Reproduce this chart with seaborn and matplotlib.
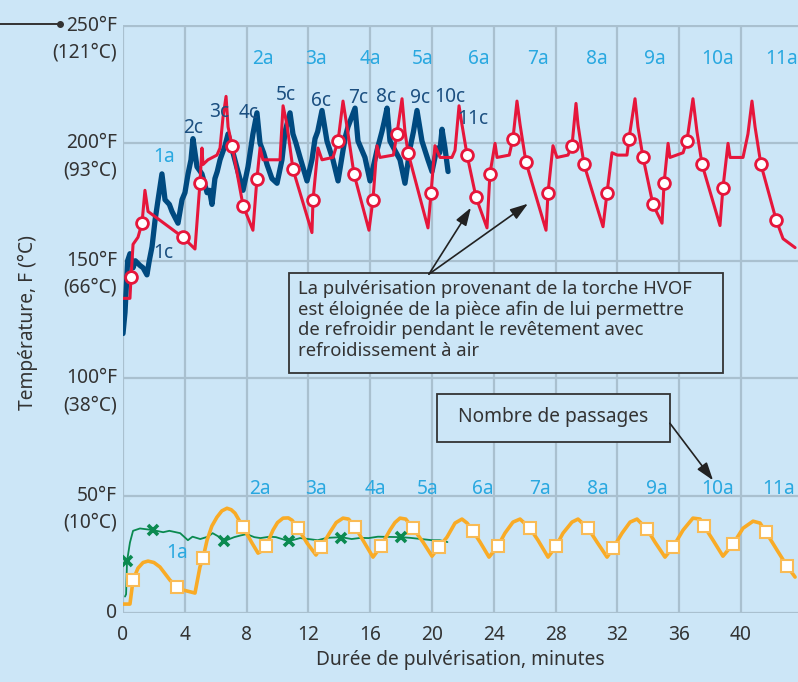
import numpy as np
import pandas as pd
import matplotlib
matplotlib.use("Agg")
import matplotlib.pyplot as plt
from matplotlib.lines import Line2D
from matplotlib.patches import Rectangle
import seaborn as sns

# ---- data (minutes, deg F) ----
blue_min = [0.0, 0.13, 0.3, 0.45, 0.65, 0.8, 1.1, 1.3, 1.55, 1.7,
            1.88, 2.07, 2.27, 2.52, 2.72, 3.0, 3.17, 3.4, 3.56, 3.82,
            4.01, 4.21, 4.4, 4.53, 4.79, 5.11, 5.44, 5.6, 5.76, 5.95,
            6.1, 6.28, 6.6, 6.8, 7.12, 7.44, 7.77, 8.09, 8.25, 8.41,
            8.67, 8.87, 9.1, 9.32, 9.64, 9.97, 10.29, 10.49, 10.81, 11.0,
            11.2, 11.46, 11.91, 12.23, 12.43, 12.6, 12.88, 13.2, 13.59, 13.92,
            14.24, 14.4, 14.56, 15.02, 15.21, 15.66, 15.99, 16.44, 16.76, 16.9,
            17.09, 17.28, 17.6, 17.93, 18.25, 18.58, 18.8, 19.03, 19.35, 19.74,
            20.0, 20.32, 20.5, 20.65, 20.84, 21.04]
blue_f = [119, 128, 150, 153, 147, 150, 148, 147, 144, 150,
          156, 167, 176, 187, 176, 174, 171, 168, 166, 176,
          179, 187, 193, 202, 190, 187, 179, 180, 174, 185,
          188, 193, 199, 204, 196, 188, 180, 190, 197, 204,
          213, 200, 196, 191, 185, 183, 193, 205, 213, 204,
          200, 194, 184, 193, 202, 205, 214, 201, 193, 184,
          197, 203, 207, 215, 201, 194, 184, 197, 205, 209,
          215, 201, 197, 193, 183, 198, 205, 214, 201, 193,
          188, 198, 196, 206, 198, 188]

red_min = [0, 0.45, 0.52, 0.65, 0.97, 1.23, 1.42, 1.62, 3.88, 4.66,
           4.98, 5.11, 5.18, 5.5, 6.08, 6.28, 6.47, 6.67, 6.8, 7.06,
           7.77, 8.41, 8.67, 8.87, 9.06, 9.6, 10.16, 10.36, 10.61, 11.0,
           12.23, 12.3, 12.62, 12.88, 13.59, 13.92, 14.24, 14.5, 14.95, 15.92,
           16.18, 16.44, 16.63, 17.5, 17.73, 18.06, 18.25, 18.45, 19.74, 19.94,
           20.19, 20.52, 21.29, 21.49, 21.75, 21.94, 22.27, 22.85, 23.56, 23.75,
           24.08, 24.21, 25.0, 25.24, 25.5, 25.7, 26.08, 27.38, 27.51, 27.83,
           28.09, 28.8, 29.06, 29.32, 29.45, 29.84, 31.07, 31.33, 31.65, 32.0,
           32.62, 32.75, 33.14, 33.33, 33.66, 34.3, 34.89, 35.02, 35.28, 35.4,
           36.25, 36.5, 36.89, 37.15, 37.48, 38.64, 38.83, 39.16, 39.29, 40.13,
           40.45, 40.71, 40.91, 41.29, 42.27, 42.72, 43.5]
red_f = [134, 134, 143, 157, 160, 166, 180, 171, 160, 155,
         183, 198, 191, 193, 195, 198, 211, 220, 207, 199,
         173.5, 163, 185, 198, 193, 193, 193, 216, 208, 189,
         162, 176, 198, 193, 194, 201, 218, 207, 187, 163,
         176, 199, 194, 195, 204, 219, 205, 196, 164, 179,
         199, 194, 194, 197, 216, 208, 195, 177, 164, 187,
         200, 194, 195, 202, 218, 208, 192, 163, 179, 199,
         194, 195, 199, 217, 208, 191, 164.5, 179, 196, 195,
         195, 202, 219, 207, 194, 174, 166, 183, 200, 194,
         196, 201, 219, 205, 191, 165, 181, 200, 194, 194,
         204, 218, 207, 191, 167.5, 159.4, 155.6]
red_mark_min = [0.52, 1.23, 3.88, 4.98, 7.06, 7.77, 8.67, 11.0, 12.3, 13.92,
                14.95, 16.18, 17.73, 18.45, 19.94, 22.27, 22.85, 23.75, 25.24, 26.08,
                27.51, 29.06, 29.84, 31.33, 32.75, 33.66, 34.3, 35.02, 36.5, 37.48,
                38.83, 41.29, 42.27]
red_mark_f = [143, 166, 160, 183, 199, 173.5, 185, 189, 176, 201,
              187, 176, 204, 196, 179, 195, 177, 187, 202, 192,
              179, 199, 191, 179, 202, 194, 174, 183, 201, 191,
              181, 191, 167.5]

green_min = [0.13, 0.2, 0.26, 0.45, 0.65, 1.1, 1.94, 2.6, 3.0, 3.7,
             4.2, 4.5, 5.0, 5.5, 5.8, 6.2, 6.54, 7.2, 7.6, 8.0,
             8.5, 8.9, 9.5, 9.9, 10.74, 11.46, 12.0, 12.6, 13.2, 14.11,
             14.8, 15.4, 15.9, 16.5, 17.99, 18.6, 19.3, 20.0, 20.5, 21.0]
green_f = [7, 8, 22, 30, 35, 36, 35.3, 34.4, 35, 34,
           31, 32.5, 31.5, 32.5, 34, 32.5, 30.6, 32.3, 33, 33.6,
           32.3, 31.9, 32.5, 32.3, 30.6, 31.9, 31.5, 31, 32, 32.3,
           31.5, 32, 31.9, 32.5, 32.3, 32, 31.5, 31, 31, 30.2]
green_mark_min = [0.26, 1.94, 6.54, 10.74, 14.11, 17.99]
green_mark_f = [22.1, 35.3, 30.6, 30.6, 31.9, 32.3]

orange_min = [0, 0.45, 0.65, 0.97, 1.3, 1.62, 2.0, 2.39, 3.04, 3.5,
              3.88, 4.66, 4.98, 5.18, 5.44, 5.75, 6.08, 6.4, 6.73, 7.0,
              7.25, 7.77, 8.35, 8.74, 9.0, 9.26, 9.71, 10.0, 10.36, 10.7,
              10.94, 11.33, 11.91, 12.49, 12.82, 13.4, 13.8, 14.24, 14.6, 15.02,
              15.53, 16.18, 16.7, 17.28, 17.6, 17.93, 18.3, 18.77, 19.42, 20.0,
              20.45, 20.97, 21.49, 21.94, 22.27, 22.65, 23.11, 23.69, 24.27, 24.72,
              25.24, 25.7, 26.34, 26.86, 27.51, 28.03, 28.48, 29.06, 29.45, 30.1,
              30.68, 31.33, 31.72, 32.3, 32.82, 33.27, 33.92, 34.43, 35.08, 35.6,
              36.25, 36.89, 37.35, 37.61, 38.19, 38.83, 39.48, 40.13, 40.78, 41.23,
              41.62, 42.33, 42.98, 43.5]
orange_f = [3.8, 3.8, 14, 19.1, 21.5, 22.1, 21.5, 19.6, 14, 11.1,
            9.8, 8.5, 19.6, 23.4, 31, 37, 40.8, 43.5, 44.6, 44,
            42.5, 36.6, 29.8, 25.5, 26.5, 28.5, 35.3, 38.5, 40.4, 40.5,
            39.5, 36.1, 29.8, 24.7, 28.1, 34.4, 38.5, 40.4, 40, 36.6,
            31, 23.8, 28.5, 35.3, 38.5, 40.4, 40, 36.1, 30.2, 24.2,
            28.1, 32.3, 38.3, 40, 38.3, 34.9, 30.2, 23.8, 28.5, 34,
            38.7, 40, 36.1, 31, 23.8, 28.5, 34, 38.7, 40, 36.1,
            30.2, 23.8, 27.6, 34, 38.7, 40, 35.7, 30.2, 23.8, 28.1,
            35.3, 40.4, 40, 37, 31, 24.2, 29.3, 36.1, 39.1, 38.3,
            34.4, 26.8, 20, 15.3]
orange_mark_min = [0.65, 3.5, 5.18, 7.77, 9.26, 11.33, 12.82, 15.02, 16.7, 18.77,
                   20.45, 22.65, 24.27, 26.34, 28.03, 30.1, 31.72, 33.92, 35.6, 37.61,
                   39.48, 41.62, 42.98]
orange_mark_f = [14, 11.1, 23.4, 36.6, 28.5, 36.1, 28.1, 36.6, 28.5, 36.1,
                 28.1, 34.9, 28.5, 36.1, 28.5, 36.1, 27.6, 35.7, 28.1, 37,
                 29.3, 34.4, 20]

# pass labels
c_labels = ["1c", "2c", "3c", "4c", "5c", "6c", "7c", "8c", "9c", "10c", "11c"]
c_x = [2.59, 4.53, 6.2, 8.1, 10.55, 12.82, 15.21, 17.0, 19.22, 21.17, 22.65]
c_y = [153.5, 206.6, 213.5, 213.0, 220.7, 218.1, 219.4, 219.8, 219.4, 219.8, 210.5]
a_labels = ["2a", "3a", "4a", "5a", "6a", "7a", "8a", "9a", "10a", "11a"]
a_top_x = [9.05, 12.49, 15.99, 19.42, 23.04, 26.86, 30.68, 34.43, 38.51, 42.65]
a_bot_x = [8.87, 12.49, 16.31, 19.74, 23.3, 26.99, 30.74, 34.56, 38.51, 42.4]

yticks_f = [0, 50, 100, 150, 200, 250]
yticks_c = ["", "(10°C)", "(38°C)", "(66°C)", "(93°C)", "(121°C)"]
xticks = [0, 4, 8, 12, 16, 20, 24, 28, 32, 36, 40]

# ---- style ----
BG = "#cce6f7"
GRID = "#a9c0cf"
TXT = "#333333"
sns.set_theme(style="whitegrid", rc={"axes.facecolor": BG, "figure.facecolor": BG,
                                      "grid.color": GRID, "grid.linewidth": 1.6})
plt.rcParams["font.family"] = ["Noto Sans", "DejaVu Sans"]
FS = 13.8

fig = plt.figure(figsize=(7.98, 6.82), dpi=100)
ax = fig.add_axes([123 / 798, 1 - 613 / 682, 675 / 798, 588 / 682])

blue_df = pd.DataFrame({"min": blue_min, "f": blue_f})
red_df = pd.DataFrame({"min": red_min, "f": red_f})
green_df = pd.DataFrame({"min": green_min, "f": green_f})
orange_df = pd.DataFrame({"min": orange_min, "f": orange_f})

sns.lineplot(data=green_df, x="min", y="f", ax=ax, color="#0b8a50", lw=1.3, zorder=3)
sns.lineplot(data=orange_df, x="min", y="f", ax=ax, color="#f9ab26", lw=2.6, zorder=3)
sns.lineplot(data=blue_df, x="min", y="f", ax=ax, color="#004a80", lw=3.8, zorder=3)
sns.lineplot(data=red_df, x="min", y="f", ax=ax, color="#e6163b", lw=2.2, zorder=4)

ax.plot(red_mark_min, red_mark_f, "o", ms=8.5, mfc="white", mec="#e6163b", mew=2, zorder=5)
ax.plot(orange_mark_min, orange_mark_f, "s", ms=8.5, mfc="white", mec="#f9bb55", mew=1.5, zorder=5)
ax.plot(green_mark_min, green_mark_f, "x", ms=7, color="#0b8a50", mew=2.6, zorder=5)

for lab, x, y in zip(c_labels, c_x, c_y):
    ax.text(x, y, lab, color="#1b4f80", fontsize=FS, ha="center", va="center", zorder=6)
for lab, x in zip(a_labels, a_top_x):
    ax.text(x, 236, lab, color="#29a8e0", fontsize=FS, ha="center", va="center", zorder=6)
for lab, x in zip(a_labels, a_bot_x):
    ax.text(x, 52.7, lab, color="#29a8e0", fontsize=FS, ha="center", va="center", zorder=6)
ax.text(2.65, 194, "1a", color="#29a8e0", fontsize=FS, ha="center", va="center", zorder=6)
ax.text(3.5, 25.5, "1a", color="#29a8e0", fontsize=FS, ha="center", va="center", zorder=6)

# annotation boxes
ax.add_patch(Rectangle((10.74, 102.0), 28.09, 43.0, fc=BG, ec=TXT, lw=1.3, zorder=7))
ax.text(11.33, 141.8, "La pulvérisation provenant de la torche HVOF\n"
        "est éloignée de la pièce afin de lui permettre\n"
        "de refroidir pendant le revêtement avec\n"
        "refroidissement à air", fontsize=13.3, color=TXT, ha="left", va="top",
        linespacing=1.19, zorder=8)
for tip in [(22.52, 172.6), (26.21, 174.3)]:
    ax.annotate("", xy=tip, xytext=(19.8, 144.3),
                arrowprops=dict(arrowstyle="-|>,head_length=0.9,head_width=0.3",
                                color="#222222", lw=1.2, shrinkA=0, shrinkB=0), zorder=8)
ax.add_patch(Rectangle((20.32, 72.7), 15.08, 20.4, fc=BG, ec=TXT, lw=1.3, zorder=7))
ax.text(27.86, 83.3, "Nombre de passages", fontsize=FS, color=TXT, ha="center", va="center", zorder=8)
ax.annotate("", xy=(38.19, 56.5), xytext=(35.4, 80.8),
            arrowprops=dict(arrowstyle="-|>,head_length=0.9,head_width=0.3",
                            color="#222222", lw=1.2, shrinkA=0, shrinkB=0), zorder=8)

# axes
ax.set_xlim(0, 675 / 15.45)
ax.set_ylim(0, 250.4)
ax.set_xticks(xticks)
ax.set_xticklabels([str(t) for t in xticks])
ax.set_yticks(yticks_f)
ax.set_yticklabels([])
ax.grid(True, axis="both")
for s in ax.spines.values():
    s.set_visible(False)
ax.tick_params(axis="x", length=0, pad=9, labelsize=FS, labelcolor=TXT)
ax.tick_params(axis="y", length=0)
ax.set_xlabel("Durée de pulvérisation, minutes", fontsize=FS, color=TXT, labelpad=3)
ax.set_ylabel("")

ytrans = ax.get_yaxis_transform()
for v, c in zip(yticks_f, yticks_c):
    flab = "0" if v == 0 else f"{v}°F"
    ax.annotate(flab, (0, v), xycoords=ytrans, xytext=(-6, 0), textcoords="offset pixels",
                ha="right", va="center", fontsize=FS, color=TXT, annotation_clip=False)
    if c:
        ax.annotate(c, (0, v), xycoords=ytrans, xytext=(-6, -27), textcoords="offset pixels",
                    ha="right", va="center", fontsize=FS, color=TXT, annotation_clip=False)

fig.text(28 / 798, 1 - 323 / 682, "Température, F (°C)", rotation=90, fontsize=FS,
         color=TXT, ha="center", va="center")

# small leader line at the top left
fig.add_artist(Line2D([0, 60 / 798], [1 - 24 / 682, 1 - 24 / 682], color=TXT, lw=1.4))
fig.add_artist(Line2D([60 / 798], [1 - 24 / 682], color=TXT, marker="o", ms=4))

fig.savefig("out.png", dpi=100, facecolor=BG)
